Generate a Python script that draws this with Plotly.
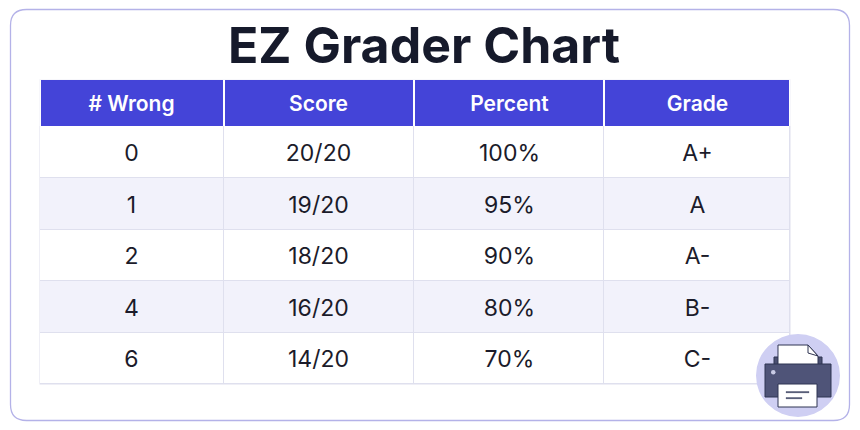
import plotly.graph_objects as go

columns = ["# Wrong", "Score", "Percent", "Grade"]
wrong = ["0", "1", "2", "4", "6"]
score = ["20/20", "19/20", "18/20", "16/20", "14/20"]
percent = ["100%", "95%", "90%", "80%", "70%"]
grade = ["A+", "A", "A-", "B-", "C-"]
row_band = [0, 1, 0, 1, 0]

# the page keeps its 8px body margin, so the figure is 16px smaller than the window
W, H = 860, 430
FW, FH = W - 16, H - 16

col_edges = [40, 223.5, 414, 604, 790]
row_edges = [126, 178, 230, 281, 333, 384]
header_edges = [80, 126]


def px(x):
    return (x - 8) / FW


def py(y):
    return 1 - (y - 8) / FH


def rect(x0, y0, x1, y1, fill, line="#2f3452", width=1.0, layer="above"):
    return dict(type="rect", xref="paper", yref="paper", x0=px(x0), x1=px(x1), y0=py(y0), y1=py(y1),
                fillcolor=fill, line=dict(color=line, width=width), layer=layer)


def path(points, fill, line, width=1.0):
    d = "M " + " L ".join(f"{px(a):.5f},{py(b):.5f}" for a, b in points) + " Z"
    return dict(type="path", xref="paper", yref="paper", path=d, fillcolor=fill, line=dict(color=line, width=width))


body_text = [list(row) for row in zip(wrong, score, percent, grade)]
body_z = [[band] * len(columns) for band in row_band]

fig = go.Figure()
fig.add_trace(
    go.Heatmap(
        x=col_edges,
        y=header_edges,
        z=[[0] * len(columns)],
        text=[columns],
        texttemplate="%{text}",
        textfont=dict(family="Inter", size=21, color="#ffffff", weight=600),
        colorscale=[[0, "#4444d8"], [1, "#4444d8"]],
        zmin=0,
        zmax=1,
        showscale=False,
        xgap=2,
        hoverinfo="skip",
    )
)
fig.add_trace(
    go.Heatmap(
        x=col_edges,
        y=row_edges,
        z=body_z,
        text=body_text,
        texttemplate="%{text}",
        textfont=dict(family="Inter", size=23, color="#1b1b2a"),
        colorscale=[[0, "#ffffff"], [1, "#f2f2fb"]],
        zmin=0,
        zmax=1,
        showscale=False,
        xgap=1,
        ygap=1,
        hoverinfo="skip",
    )
)

# outer card
x0, y0, x1, y1, r = 10.5, 9.5, 849.5, 420.5, 16
card = (
    f"M {px(x0 + r)},{py(y0)} L {px(x1 - r)},{py(y0)} Q {px(x1)},{py(y0)} {px(x1)},{py(y0 + r)} "
    f"L {px(x1)},{py(y1 - r)} Q {px(x1)},{py(y1)} {px(x1 - r)},{py(y1)} "
    f"L {px(x0 + r)},{py(y1)} Q {px(x0)},{py(y1)} {px(x0)},{py(y1 - r)} "
    f"L {px(x0)},{py(y0 + r)} Q {px(x0)},{py(y0)} {px(x0 + r)},{py(y0)} Z"
)
shapes = [
    dict(type="path", xref="paper", yref="paper", path=card, line=dict(color="#b4b2e8", width=1.3), layer="below"),
    # white gaps between the header cells
    rect(39.5, 79.5, 790.5, 126, "#ffffff", line="#ffffff", width=0, layer="below"),
]

# printer icon
shapes += [
    dict(type="circle", xref="paper", yref="paper", x0=px(756), x1=px(840), y0=py(417), y1=py(334),
         fillcolor="#cfcff3", line=dict(width=0)),
    rect(774, 357, 822, 375, "#4b5072"),
    path([(778, 345), (808, 345), (818, 356), (818, 375), (778, 375)], "#ffffff", "#2f3452"),
    path([(808, 345), (808, 353), (818, 356)], "#ffffff", "#2f3452"),
    rect(765, 364, 831, 397, "#4f5478"),
    rect(778, 384, 817, 407, "#ffffff"),
    rect(786, 391.5, 809, 392.8, "#3b4060", line="#3b4060", width=0.3),
    rect(786, 397.5, 802, 398.8, "#3b4060", line="#3b4060", width=0.3),
    dict(type="circle", xref="paper", yref="paper", x0=px(771), x1=px(775.5), y0=py(374.5), y1=py(370),
         fillcolor="#c9cbe6", line=dict(width=0)),
]

fig.update_layout(
    width=FW,
    height=FH,
    margin=dict(l=0, r=0, t=0, b=0),
    paper_bgcolor="#ffffff",
    plot_bgcolor="#dfe0ee",
    xaxis=dict(domain=[px(39.5), px(790.5)], range=[39.5, 790.5], visible=False),
    yaxis=dict(domain=[py(384.5), py(79.5)], range=[384.5, 79.5], visible=False),
    shapes=shapes,
    annotations=[
        dict(text="<b>EZ Grader Chart</b>", x=px(424), y=py(45), xref="paper", yref="paper", showarrow=False,
             xanchor="center", yanchor="middle", font=dict(family="Inter", size=50, color="#161a2b"))
    ],
)

fig.write_html("out.html")
